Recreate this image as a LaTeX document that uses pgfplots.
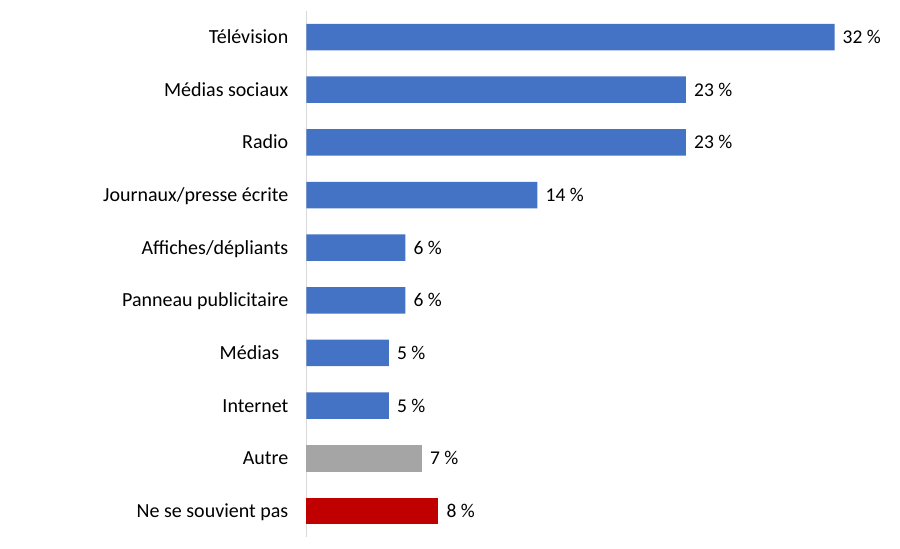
\documentclass[border=0pt]{standalone}
\usepackage{pgfplots}
\pgfplotsset{compat=1.18}
\usepackage{fontspec}
\setmainfont{Carlito}
\definecolor{cblue}{HTML}{4472C4}
\definecolor{cgrey}{HTML}{A5A5A5}
\definecolor{cred}{HTML}{C00000}
\definecolor{axgrey}{HTML}{D9D9D9}
\begin{document}
\fontsize{20}{24}\selectfont
\begin{tikzpicture}
\begin{axis}[
  name=ax,
  scale only axis,
  width=577.5pt, height=526.6pt,
  xmin=0, xmax=35,
  ymin=-0.5, ymax=9.5,
  y dir=reverse,
  xbar, bar shift=0pt, bar width=26.5pt,
  axis x line=none,
  axis y line*=left,
  y axis line style={draw=axgrey, line width=1pt},
  major tick length=0pt,
  ytick={0,...,9},
  yticklabels={Télévision, Médias sociaux, Radio, Journaux/presse écrite, Affiches/dépliants, Panneau publicitaire, {Médias\rule{9pt}{0pt}}, Internet, Autre, Ne se souvient pas},
  yticklabel style={font=\fontsize{20}{24}\selectfont, anchor=base east, inner sep=0pt, xshift=-18pt, yshift=-6.5pt},
  /pgf/number format/assume math mode=true,
  point meta=x,
  nodes near coords={\pgfmathprintnumber{\pgfplotspointmeta}~\%},
  nodes near coords style={font=\fontsize{19.5}{23}\selectfont, anchor=base west, inner sep=0pt, xshift=8pt, yshift=-6.5pt, text=black},
  clip=false,
]
\addplot[fill=cblue, draw=none] coordinates {(32,0) (23,1) (23,2) (14,3) (6,4) (6,5) (5,6) (5,7)};
\addplot[fill=cgrey, draw=none] coordinates {(7,8)};
\addplot[fill=cred, draw=none] coordinates {(8,9)};
\end{axis}
\path ([shift={(-306.5pt,-11.7pt)}]ax.south west) rectangle ([shift={(593.5pt,537.3pt)}]ax.south west);
\end{tikzpicture}
\end{document}
